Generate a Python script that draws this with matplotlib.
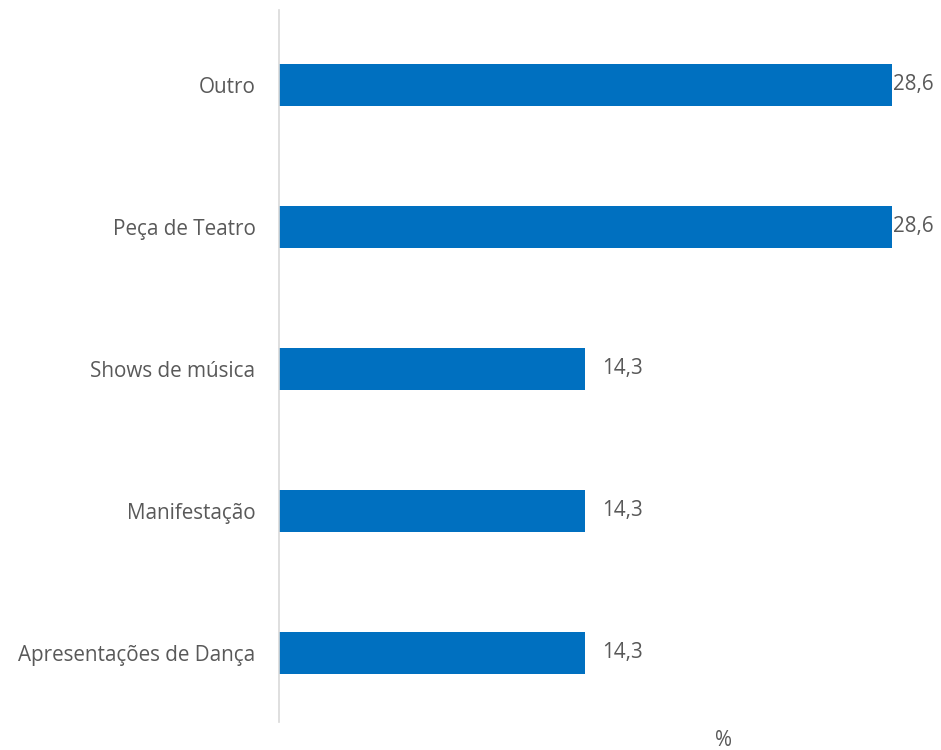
import matplotlib
matplotlib.use("Agg")
import matplotlib.pyplot as plt

categories = ["Apresentações de Dança", "Manifestação", "Shows de música", "Peça de Teatro", "Outro"]
values = [14.3, 14.3, 14.3, 28.6, 28.6]
value_labels = ["14,3", "14,3", "14,3", "28,6", "28,6"]

W, H = 941, 750
fig = plt.figure(figsize=(W / 100, H / 100), dpi=100)
ax = fig.add_axes([279 / W, 28 / H, (922 - 279) / W, (740 - 28) / H])

bar_color = "#0070C0"
text_color = "#595959"
font = "Open Sans"
fs = 14.9

ypos = list(range(len(categories)))
ax.barh(ypos, values, height=0.296, color=bar_color, left=0)
ax.set_xlim(0, 30)
ax.set_ylim(-0.486, 4.528)

ax.set_yticks(ypos)
ax.set_yticklabels(categories, fontsize=fs, color=text_color, family=font)
ax.tick_params(axis="y", length=0, pad=17)
ax.set_xticks([])

for s in ["top", "right", "bottom"]:
    ax.spines[s].set_visible(False)
ax.spines["left"].set_color("#d9d9d9")
ax.spines["left"].set_linewidth(1.2)

for y, v, lab in zip(ypos, values, value_labels):
    off = 17 if v < 20 else 1
    ax.annotate(lab, xy=(v, y), xytext=(off * 0.72, 0), textcoords="offset points",
                ha="left", va="center", fontsize=fs, color=text_color, family=font)

fig.text(724 / W, 1 - 740 / H, "%", ha="center", va="center", fontsize=fs,
         color=text_color, family=font)

fig.savefig("out.png", dpi=100)
